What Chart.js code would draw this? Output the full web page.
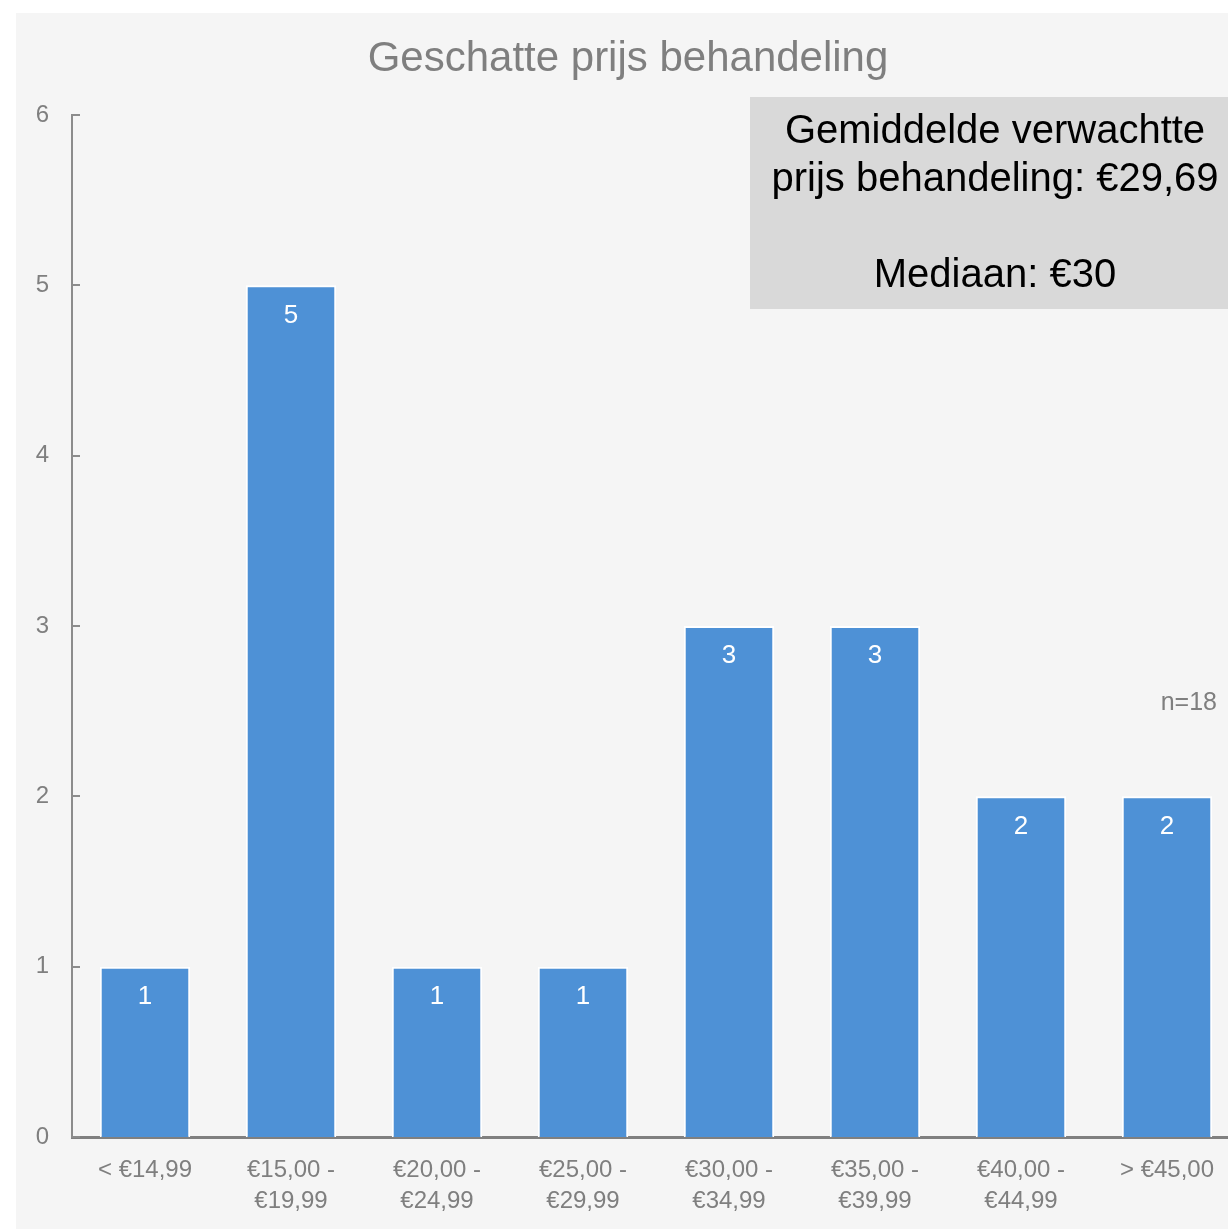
<!DOCTYPE html>
<html>
<head>
<meta charset="utf-8">
<script src="https://cdn.jsdelivr.net/npm/chart.js@4/dist/chart.umd.min.js"></script>
<style>
    html, body { margin: 0; padding: 0; background: #ffffff; overflow: hidden; }
    #wrap { position: absolute; left: 16px; top: 13px; width: 1232px; height: 1216px; background: #f5f5f5; }
</style>
</head>
<body>
<div id="wrap"><canvas id="priceChart" width="1232" height="1216"></canvas></div>
<script>
// Price buckets and number of respondents per bucket
const categories = [
    ['< €14,99'],
    ['€15,00 -', '€19,99'],
    ['€20,00 -', '€24,99'],
    ['€25,00 -', '€29,99'],
    ['€30,00 -', '€34,99'],
    ['€35,00 -', '€39,99'],
    ['€40,00 -', '€44,99'],
    ['> €45,00']
];
const counts = [1, 5, 1, 1, 3, 3, 2, 2];
const yTicks = [0, 1, 2, 3, 4, 5, 6];

const chartTitle = 'Geschatte prijs behandeling';
const summaryLines = ['Gemiddelde verwachtte', 'prijs behandeling: €29,69', '', 'Mediaan: €30'];
const sampleNote = 'n=18';

const FONT = '"Liberation Sans", Arial, sans-serif';
const GREY = '#7f7f7f';

// Title, summary box, n-label, bar values and inward y ticks
const decorations = {
    id: 'decorations',
    afterDraw(chart) {
        const ctx = chart.ctx;
        const area = chart.chartArea;
        const yScale = chart.scales.y;
        ctx.save();

        // title
        ctx.fillStyle = GREY;
        ctx.font = '42px ' + FONT;
        ctx.textAlign = 'center';
        ctx.textBaseline = 'middle';
        ctx.fillText(chartTitle, chart.width / 2 - 4, 46);

        // inward tick marks on the y axis
        ctx.strokeStyle = '#8c8c8c';
        ctx.lineWidth = 2;
        yTicks.forEach(v => {
            const py = Math.round(yScale.getPixelForValue(v));
            ctx.beginPath();
            ctx.moveTo(area.left, py);
            ctx.lineTo(area.left + 8, py);
            ctx.stroke();
        });

        // value labels inside the bars
        const meta = chart.getDatasetMeta(0);
        ctx.fillStyle = '#ffffff';
        ctx.font = '26px ' + FONT;
        meta.data.forEach((bar, i) => {
            ctx.fillText(String(counts[i]), bar.x, bar.y + 30);
        });

        // summary box
        const boxLeft = 734, boxTop = 84, boxBottom = 296;
        ctx.fillStyle = '#d9d9d9';
        ctx.fillRect(boxLeft, boxTop, chart.width - boxLeft, boxBottom - boxTop);
        ctx.fillStyle = '#000000';
        ctx.font = '40px ' + FONT;
        summaryLines.forEach((line, i) => {
            ctx.fillText(line, 979, 119 + i * 48);
        });

        // sample size
        ctx.fillStyle = GREY;
        ctx.font = '25px ' + FONT;
        ctx.textAlign = 'right';
        ctx.fillText(sampleNote, 1201, 690);

        ctx.restore();
    }
};

const ctx = document.getElementById('priceChart').getContext('2d');
new Chart(ctx, {
    type: 'bar',
    data: {
        labels: categories,
        datasets: [{
            data: counts,
            backgroundColor: '#4e91d6',
            borderColor: '#ffffff',
            borderWidth: 2,
            borderSkipped: 'start',
            barPercentage: 0.62,
            categoryPercentage: 1
        }]
    },
    options: {
        responsive: false,
        animation: false,
        layout: {
            padding: { top: 102, right: 8, left: 0, bottom: 0 }
        },
        plugins: {
            legend: { display: false },
            title: { display: false },
            tooltip: { enabled: false }
        },
        scales: {
            x: {
                grid: { display: false, drawTicks: false },
                border: { display: true, color: '#808080', width: 3 },
                ticks: {
                    color: GREY,
                    font: { family: FONT, size: 24, lineHeight: 1.3 },
                    padding: 18,
                    maxRotation: 0,
                    autoSkip: false
                },
                afterFit: scale => { scale.height = 92; }
            },
            y: {
                min: 0,
                max: 6,
                grid: { display: false, drawTicks: false },
                border: { display: true, color: '#8c8c8c', width: 2 },
                ticks: {
                    stepSize: 1,
                    color: GREY,
                    font: { family: FONT, size: 24 },
                    padding: 23
                },
                afterFit: scale => { scale.width = 56; }
            }
        }
    },
    plugins: [decorations]
});
</script>
</body>
</html>
